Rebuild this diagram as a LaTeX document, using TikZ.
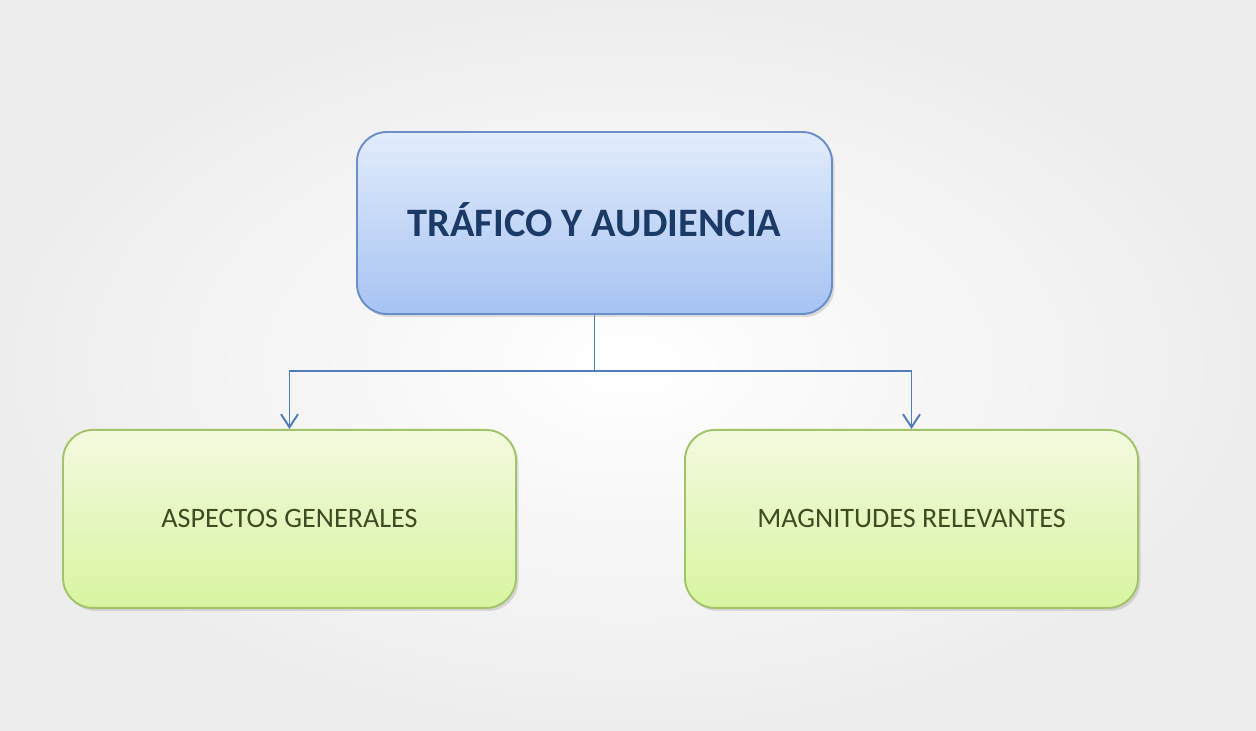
\documentclass[tikz,border=0pt]{standalone}
\usepackage{fontspec}
\setmainfont{Carlito}
\usepackage{xcolor}
\usetikzlibrary{arrows.meta, positioning, shadows}

\definecolor{topfillA}{HTML}{E2ECFC}
\definecolor{topfillB}{HTML}{A6C3F2}
\definecolor{topline}{HTML}{6A8FC8}
\definecolor{toptext}{HTML}{1B3A66}
\definecolor{leaffillA}{HTML}{F3FADF}
\definecolor{leaffillB}{HTML}{D8F4A0}
\definecolor{leafline}{HTML}{A3C36A}
\definecolor{leaftext}{HTML}{3E4C22}
\definecolor{linkblue}{HTML}{4F7DB8}
\definecolor{bgedge}{HTML}{ECEDEC}

\begin{document}
\begin{tikzpicture}[
    node distance=2.28cm,
    topbox/.style={rectangle, rounded corners=0.6cm, draw=topline, line width=1.1pt, top color=topfillA, bottom color=topfillB, minimum width=9.5cm, minimum height=3.64cm, align=center, font=\fontsize{23}{28}\selectfont\bfseries, text=toptext, drop shadow={opacity=0.25, shadow xshift=0.05cm, shadow yshift=-0.06cm}},
    leafbox/.style={rectangle, rounded corners=0.6cm, draw=leafline, line width=1.1pt, top color=leaffillA, bottom color=leaffillB, minimum width=9.06cm, minimum height=3.56cm, align=center, font=\fontsize{16}{19}\selectfont, text=leaftext, drop shadow={opacity=0.25, shadow xshift=0.05cm, shadow yshift=-0.06cm}},
    arrow/.style={line width=1.1pt, -{Straight Barb[length=2.6mm, width=3.4mm]}, color=linkblue}
]

    % Slide background
    \shade[inner color=white, outer color=bgedge] (0,0) rectangle (25.12,14.6);
    \useasboundingbox (0,0) rectangle (25.12,14.6);

    % Main topic
    \node (traffic) [topbox] at (11.89,10.14) {TRÁFICO Y AUDIENCIA\vphantom{p}};

    % Subtopics
    \node (general) [leafbox, below=of traffic, xshift=-6.1cm] {ASPECTOS GENERALES};
    \node (magnitude) [leafbox, below=of traffic, xshift=6.34cm] {MAGNITUDES RELEVANTES};

    % Connecting Arrows
    \draw [linkblue, line width=1.1pt] (traffic.south) -- ++(0,-1.12) coordinate (split);
    \draw [arrow] (split) -| (general.north);
    \draw [arrow] (split) -| (magnitude.north);

\end{tikzpicture}
\end{document}
